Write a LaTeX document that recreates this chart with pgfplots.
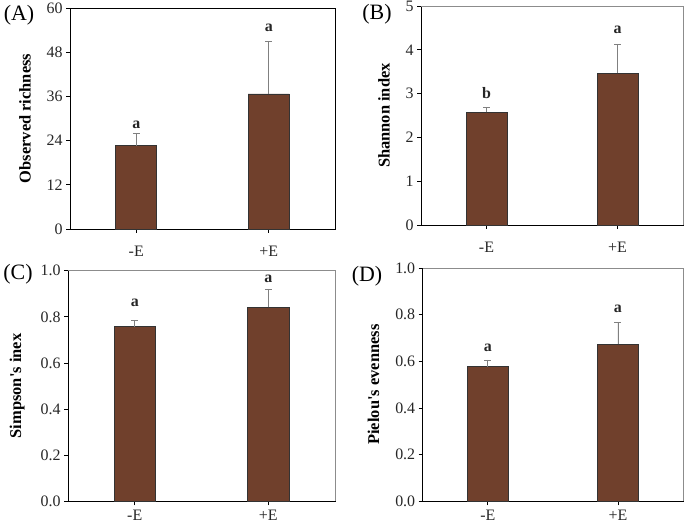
\documentclass[border=0pt]{standalone}
\usepackage{fontspec}
\setmainfont{Liberation Serif}
\usepackage{pgfplots}
\pgfplotsset{compat=1.18}
\definecolor{barbrown}{RGB}{112,64,44}
\definecolor{errgray}{RGB}{128,128,128}
\definecolor{framegray}{RGB}{140,140,140}
\pgfplotsset{
  panel/.style={
    scale only axis, clip=false,
    xmin=-0.5, xmax=1.5, ymin=0,
    xtick={0,1}, xticklabels={-E,+E},
    tick align=outside, xtick pos=bottom, ytick pos=left,
    major tick length=4bp,
    /pgf/number format/assume math mode=true,
    tick label style={font=\fontsize{16}{18}\selectfont, text=black!85},
    ylabel style={font=\bfseries\fontsize{16.5}{18}\selectfont, yshift=9bp},
    axis line style={black, line width=0.8pt},
    tick style={black, line width=0.8pt},
  },
  bars/.style={
    ybar, bar width=0.31, fill=barbrown, draw=black!80, line width=0.6pt,
    error bars/.cd, y dir=plus, y explicit,
    error bar style={errgray, line width=0.8pt},
    error mark options={rotate=90, mark size=3.5bp, errgray, line width=0.8pt},
  },
  letters/.style={
    only marks, mark=none, nodes near coords, point meta=explicit symbolic,
    nodes near coords style={anchor=center, font=\bfseries\fontsize{16}{18}\selectfont, text=black!85},
  },
}
\begin{document}
\begin{tikzpicture}[x=1bp,y=1bp]
\useasboundingbox (0,0) rectangle (685,526);
% (A)
\begin{axis}[panel, at={(70bp,297bp)}, anchor=south west, width=265bp, height=221bp,
  xticklabel style={yshift=-10bp},
  ymax=60, ytick={0,12,24,36,48,60}, ylabel={Observed richness}]
\addplot[bars] coordinates {(0,22.6) +- (0,3.3) (1,36.7) +- (0,14.1)};
\addplot[letters] coordinates {(0,28.2)[a] (1,54.6)[a]};
\end{axis}
\node[font=\fontsize{22}{24}\selectfont, anchor=center] at (19,511) {(A)};
% (B)
\begin{axis}[panel, at={(421bp,301bp)}, anchor=south west, width=262bp, height=219bp,
  xticklabel style={yshift=-10bp},
  ymax=5, ytick={0,1,2,3,4,5}, ylabel={Shannon index}]
\addplot[bars] coordinates {(0,2.57) +- (0,0.12) (1,3.47) +- (0,0.66)};
\addplot[letters] coordinates {(0,3.01)[b] (1,4.45)[a]};
\draw[framegray, line width=0.8pt] (rel axis cs:0,1) -- (rel axis cs:1,1) -- (rel axis cs:1,0);
\end{axis}
\node[font=\fontsize{22}{24}\selectfont, anchor=center] at (377,512) {(B)};
% (C)
\begin{axis}[panel, at={(68bp,24.7bp)}, anchor=south west, width=267bp, height=230.6bp,
  xticklabel style={yshift=-1bp},
  ymax=1, ytick={0,0.2,0.4,0.6,0.8,1.0},
  yticklabel style={/pgf/number format/.cd, fixed, fixed zerofill, precision=1},
  ylabel={Simpson\textquotesingle s inex}]
\addplot[bars] coordinates {(0,0.757) +- (0,0.029) (1,0.841) +- (0,0.080)};
\addplot[letters] coordinates {(0,0.860)[a] (1,0.965)[a]};
\draw[framegray, line width=0.8pt] (rel axis cs:0,1) -- (rel axis cs:1,1) -- (rel axis cs:1,0);
\end{axis}
\node[font=\fontsize{22}{24}\selectfont, anchor=center] at (18,512-260) {(C)};
% (D)
\begin{axis}[panel, at={(422.7bp,24.7bp)}, anchor=south west, width=260.3bp, height=233.3bp,
  xticklabel style={yshift=-1bp},
  ymax=1, ytick={0,0.2,0.4,0.6,0.8,1.0},
  yticklabel style={/pgf/number format/.cd, fixed, fixed zerofill, precision=1},
  ylabel={Pielou\textquotesingle s evenness}]
\addplot[bars] coordinates {(0,0.577) +- (0,0.029) (1,0.674) +- (0,0.093)};
\addplot[letters] coordinates {(0,0.657)[a] (1,0.824)[a]};
\draw[framegray, line width=0.8pt] (rel axis cs:0,1) -- (rel axis cs:1,1) -- (rel axis cs:1,0);
\end{axis}
\node[font=\fontsize{22}{24}\selectfont, anchor=center] at (367,510-260) {(D)};
\end{tikzpicture}
\end{document}
